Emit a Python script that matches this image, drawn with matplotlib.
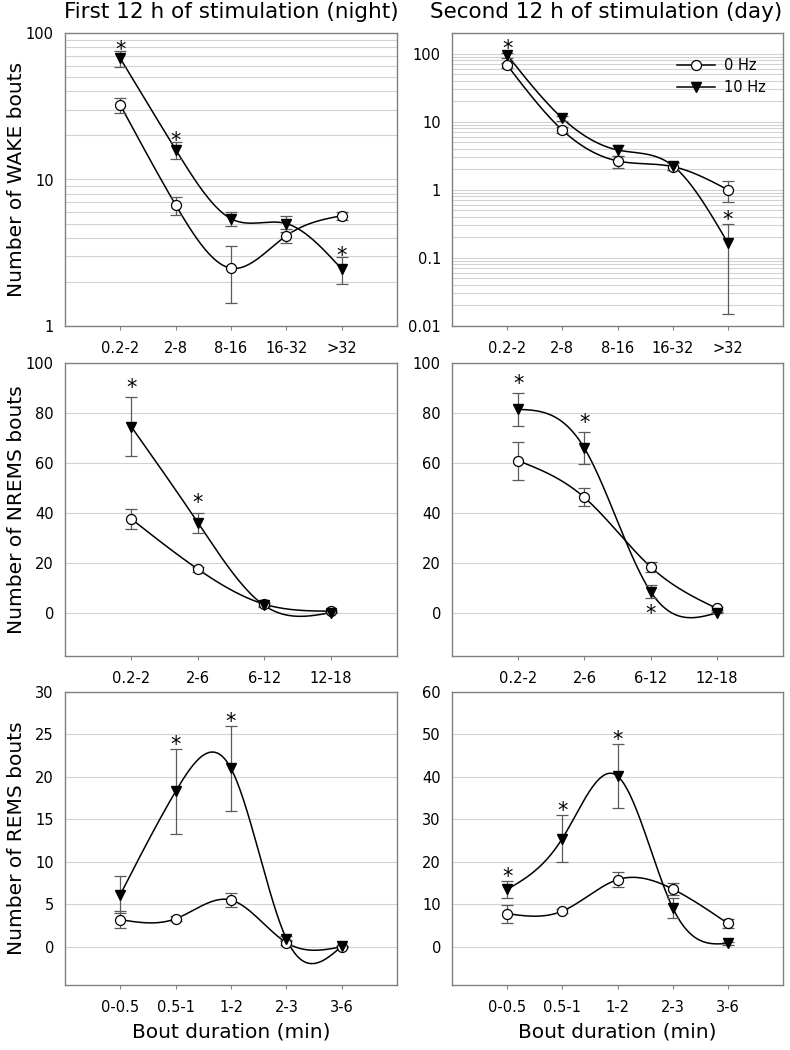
import numpy as np
import matplotlib
matplotlib.use("Agg")
import matplotlib.pyplot as plt
from matplotlib.lines import Line2D
from matplotlib.ticker import LogLocator, NullFormatter

plt.rcParams["font.family"] = ["DejaVu Sans"]

# ---- data ----
wake_labels = ["0.2-2", "2-8", "8-16", "16-32", ">32"]
nrems_labels = ["0.2-2", "2-6", "6-12", "12-18"]
rems_labels = ["0-0.5", "0.5-1", "1-2", "2-3", "3-6"]

wake_night_0hz = [32.2, 6.7, 2.48, 4.13, 5.66]
wake_night_0hz_sem = [3.9, 0.95, 1.05, 0.45, 0.35]
wake_night_10hz = [67.0, 16.0, 5.4, 5.0, 2.45]
wake_night_10hz_sem = [8.8, 2.1, 0.6, 0.63, 0.5]
wake_night_sig = [0, 1, 4]

wake_day_0hz = [67.4, 7.5, 2.65, 2.19, 1.0]
wake_day_0hz_sem = [6.0, 0.8, 0.53, 0.25, 0.33]
wake_day_10hz = [95.0, 11.2, 3.84, 2.26, 0.166]
wake_day_10hz_sem = [8.0, 1.1, 0.7, 0.3, 0.151]
wake_day_sig = [0, 4]

nrems_night_0hz = [37.7, 17.7, 3.7, 0.9]
nrems_night_0hz_sem = [3.8, 1.0, 0.8, 0.3]
nrems_night_10hz = [74.5, 36.3, 3.2, 0.3]
nrems_night_10hz_sem = [11.8, 4.0, 0.8, 0.2]
nrems_night_sig = [0, 1]

nrems_day_0hz = [61.0, 46.3, 18.6, 2.0]
nrems_day_0hz_sem = [7.6, 3.6, 1.9, 0.6]
nrems_day_10hz = [81.5, 66.0, 8.7, 0.2]
nrems_day_10hz_sem = [6.5, 6.3, 2.7, 0.2]
nrems_day_sig = [0, 1]
nrems_day_sig_below = [2]

rems_night_0hz = [3.2, 3.3, 5.5, 0.5, 0.0]
rems_night_0hz_sem = [1.0, 0.3, 0.85, 0.3, 0.1]
rems_night_10hz = [6.15, 18.3, 21.0, 0.95, 0.05]
rems_night_10hz_sem = [2.2, 5.0, 5.0, 0.3, 0.1]
rems_night_sig = [1, 2]

rems_day_0hz = [7.8, 8.4, 15.8, 13.6, 5.5]
rems_day_0hz_sem = [2.1, 0.5, 1.8, 1.4, 1.0]
rems_day_10hz = [13.5, 25.5, 40.2, 9.2, 0.8]
rems_day_10hz_sem = [1.9, 5.6, 7.6, 2.4, 0.3]
rems_day_sig = [0, 1, 2]

GRID = "#d2d2d2"
FRAME = "#808080"
ERR = "#5a5a5a"


def spline(x, y, num=300):
    """natural cubic spline through the points (for the smooth connecting line)"""
    x = np.asarray(x, float)
    y = np.asarray(y, float)
    n = len(x)
    h = np.diff(x)
    A = np.zeros((n, n))
    b = np.zeros(n)
    A[0, 0] = A[-1, -1] = 1
    for i in range(1, n - 1):
        A[i, i - 1] = h[i - 1]
        A[i, i] = 2 * (h[i - 1] + h[i])
        A[i, i + 1] = h[i]
        b[i] = 6 * ((y[i + 1] - y[i]) / h[i] - (y[i] - y[i - 1]) / h[i - 1])
    M = np.linalg.solve(A, b)
    xs = np.linspace(x[0], x[-1], num)
    k = np.clip(np.searchsorted(x, xs) - 1, 0, n - 2)
    hh = x[k + 1] - x[k]
    t0 = x[k + 1] - xs
    t1 = xs - x[k]
    ys = (M[k] * t0 ** 3 + M[k + 1] * t1 ** 3) / (6 * hh) \
        + (y[k] / hh - M[k] * hh / 6) * t0 + (y[k + 1] / hh - M[k + 1] * hh / 6) * t1
    return xs, ys


def panel(ax, labels, y0, e0, y1, e1, sig, log=False, ylim=None, yticks=None,
          star_off=0.0, sig_below=()):
    x = np.arange(1, len(labels) + 1)
    y0, e0, y1, e1 = map(np.asarray, (y0, e0, y1, e1))
    for y in (y0, y1):
        if log:
            xs, ys = spline(x, np.log10(y))
            ys = 10 ** ys
        else:
            xs, ys = spline(x, y)
        ax.plot(xs, ys, color="black", lw=1.1, zorder=3)
    for y, e in ((y0, e0), (y1, e1)):
        ax.errorbar(x, y, yerr=e, fmt="none", ecolor=ERR, elinewidth=0.9,
                    capsize=4, capthick=0.9, zorder=4)
    ax.plot(x, y0, "o", ms=7.2, mfc="white", mec="black", mew=0.9, zorder=5)
    ax.plot(x, y1, "v", ms=7.2, mfc="black", mec="black", zorder=5)

    for i in sig:
        ax.annotate("*", xy=(x[i], y1[i] + e1[i]), xytext=(0, star_off),
                    textcoords="offset points", ha="center", va="center",
                    fontsize=15, zorder=6)
    for i in sig_below:
        ax.annotate("*", xy=(x[i], y1[i] - e1[i]), xytext=(0, -11),
                    textcoords="offset points", ha="center", va="center",
                    fontsize=15, zorder=6)

    ax.set_xlim(0, len(labels) + 1)
    ax.set_xticks(x)
    ax.set_xticklabels(labels)
    if log:
        ax.set_yscale("log")
        ax.yaxis.set_minor_locator(LogLocator(base=10, subs=np.arange(2, 10)))
        ax.yaxis.set_minor_formatter(NullFormatter())
        ax.grid(True, axis="y", which="both", color=GRID, lw=0.8, zorder=0)
    else:
        ax.grid(True, axis="y", which="major", color=GRID, lw=0.8, zorder=0)
    ax.set_ylim(*ylim)
    ax.set_yticks(yticks)
    ax.set_yticklabels([f"{t:g}" for t in yticks])
    ax.tick_params(axis="y", which="both", length=0, pad=8, labelsize=10.5)
    ax.tick_params(axis="x", length=3, direction="out", color=FRAME, pad=8,
                   labelsize=10.5)
    for s in ax.spines.values():
        s.set_color(FRAME)
        s.set_linewidth(1.0)
    ax.set_axisbelow(True)


W, H = 790, 1050
fig = plt.figure(figsize=(W / 100, H / 100), dpi=100)
cols = [(65, 397), (452, 783)]
rows = [(33, 326), (363, 656), (692, 985)]
axes = {}
for r, (t, b) in enumerate(rows):
    for c, (l, rr) in enumerate(cols):
        axes[r, c] = fig.add_axes([l / W, 1 - b / H, (rr - l) / W, (b - t) / H])

panel(axes[0, 0], wake_labels, wake_night_0hz, wake_night_0hz_sem,
      wake_night_10hz, wake_night_10hz_sem, wake_night_sig,
      log=True, ylim=(1, 100), yticks=[1, 10, 100], star_off=0.5)
panel(axes[0, 1], wake_labels, wake_day_0hz, wake_day_0hz_sem,
      wake_day_10hz, wake_day_10hz_sem, wake_day_sig,
      log=True, ylim=(0.01, 200), yticks=[0.01, 0.1, 1, 10, 100], star_off=2.5)
panel(axes[1, 0], nrems_labels, nrems_night_0hz, nrems_night_0hz_sem,
      nrems_night_10hz, nrems_night_10hz_sem, nrems_night_sig,
      ylim=(-17, 100), yticks=[0, 20, 40, 60, 80, 100], star_off=6.5)
panel(axes[1, 1], nrems_labels, nrems_day_0hz, nrems_day_0hz_sem,
      nrems_day_10hz, nrems_day_10hz_sem, nrems_day_sig,
      ylim=(-17, 100), yticks=[0, 20, 40, 60, 80, 100], star_off=6.5,
      sig_below=nrems_day_sig_below)
panel(axes[2, 0], rems_labels, rems_night_0hz, rems_night_0hz_sem,
      rems_night_10hz, rems_night_10hz_sem, rems_night_sig,
      ylim=(-4.5, 30), yticks=[0, 5, 10, 15, 20, 25, 30], star_off=3)
panel(axes[2, 1], rems_labels, rems_day_0hz, rems_day_0hz_sem,
      rems_day_10hz, rems_day_10hz_sem, rems_day_sig,
      ylim=(-9, 60), yticks=[0, 10, 20, 30, 40, 50, 60], star_off=3)

for r, name in enumerate(["WAKE", "NREMS", "REMS"]):
    axes[r, 0].set_ylabel(f"Number of {name} bouts", fontsize=14.5)
    axes[r, 0].yaxis.set_label_coords(-39 / 332, 0.5)
for c in range(2):
    axes[2, c].set_xlabel("Bout duration (min)", fontsize=14.5, labelpad=5)

fig.text(231 / W, 1 - 18 / H, "First 12 h of stimulation (night)",
         ha="center", va="baseline", fontsize=15.5)
fig.text(606 / W, 1 - 18 / H, "Second 12 h of stimulation (day)",
         ha="center", va="baseline", fontsize=15.5)

handles = [
    Line2D([], [], color="black", lw=1.1, marker="o", ms=7.2, mfc="white",
           mec="black", mew=0.9),
    Line2D([], [], color="black", lw=1.1, marker="v", ms=7.2, mfc="black"),
]
axes[0, 1].legend(handles, ["0 Hz", "10 Hz"], loc="upper left",
                  bbox_to_anchor=(0.64, 0.958), frameon=False, fontsize=10.5,
                  handlelength=2.6, handletextpad=0.6, labelspacing=0.45)

fig.savefig("out.png", dpi=100)
print("wrote out.png")
